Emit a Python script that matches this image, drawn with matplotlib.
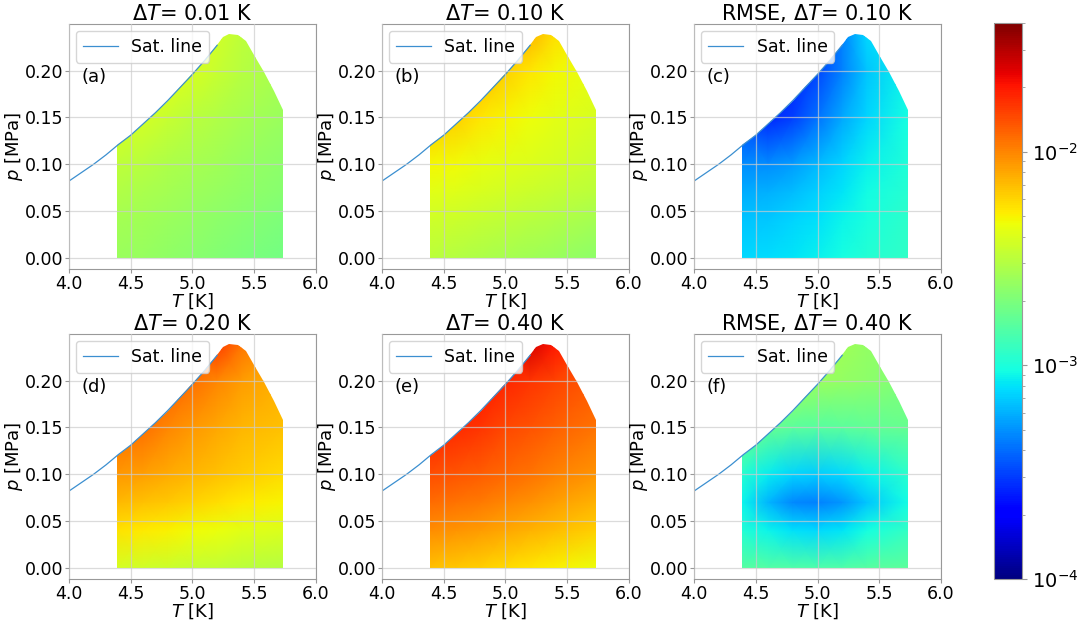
import numpy as np
import matplotlib
matplotlib.use('Agg')
import matplotlib.pyplot as plt
from matplotlib.colors import LogNorm
from matplotlib.patches import Polygon

# Saturation line of helium
sat_T = [4.0, 4.1, 4.2, 4.3, 4.4, 4.5, 4.6, 4.7, 4.8, 4.9, 5.0, 5.1, 5.2]
sat_p = [0.082, 0.091, 0.100, 0.110, 0.121, 0.131, 0.143, 0.155, 0.168, 0.182, 0.196, 0.211, 0.227]

# Upper edge of the data region
edge_T = [4.39, 4.5, 4.6, 4.7, 4.8, 4.9, 5.0, 5.1, 5.2, 5.25, 5.3, 5.37, 5.43, 5.5, 5.58, 5.66, 5.73]
edge_p = [0.120, 0.131, 0.143, 0.155, 0.168, 0.182, 0.196, 0.211, 0.227, 0.236, 0.239, 0.238,
          0.232, 0.217, 0.199, 0.178, 0.158]

# Grid nodes for the error fields
grid_T = [4.39, 4.6, 4.8, 5.0, 5.2, 5.4, 5.73]
grid_p = [0.0, 0.04, 0.07, 0.10, 0.15, 0.20, 0.24]

# log10 of the error, rows = grid_p, cols = grid_T
err_a = [[-2.60, -2.61, -2.63, -2.65, -2.67, -2.69, -2.72],
         [-2.57, -2.58, -2.60, -2.62, -2.64, -2.66, -2.69],
         [-2.53, -2.55, -2.57, -2.59, -2.61, -2.63, -2.66],
         [-2.49, -2.51, -2.54, -2.56, -2.58, -2.61, -2.64],
         [-2.40, -2.42, -2.46, -2.50, -2.53, -2.56, -2.60],
         [-2.36, -2.36, -2.37, -2.41, -2.46, -2.51, -2.56],
         [-2.36, -2.36, -2.36, -2.38, -2.43, -2.49, -2.55]]

err_b = [[-2.50, -2.52, -2.54, -2.56, -2.58, -2.60, -2.64],
         [-2.44, -2.45, -2.47, -2.49, -2.51, -2.53, -2.57],
         [-2.38, -2.39, -2.41, -2.43, -2.45, -2.47, -2.50],
         [-2.32, -2.33, -2.36, -2.38, -2.40, -2.42, -2.46],
         [-2.19, -2.21, -2.27, -2.31, -2.34, -2.37, -2.41],
         [-2.13, -2.13, -2.15, -2.21, -2.27, -2.32, -2.37],
         [-2.13, -2.13, -2.13, -2.15, -2.13, -2.25, -2.33]]

err_c = [[-3.12, -3.11, -3.09, -3.06, -3.02, -2.98, -2.94],
         [-3.17, -3.16, -3.13, -3.10, -3.05, -3.01, -2.95],
         [-3.23, -3.22, -3.19, -3.14, -3.09, -3.03, -2.97],
         [-3.31, -3.31, -3.27, -3.20, -3.13, -3.06, -2.99],
         [-3.48, -3.58, -3.52, -3.38, -3.24, -3.13, -3.02],
         [-3.50, -3.58, -3.58, -3.50, -3.34, -3.17, -3.05],
         [-3.50, -3.56, -3.56, -3.50, -3.34, -3.12, -3.05]]

err_d = [[-2.42, -2.44, -2.45, -2.47, -2.48, -2.50, -2.52],
         [-2.26, -2.28, -2.30, -2.33, -2.35, -2.38, -2.40],
         [-2.15, -2.17, -2.19, -2.22, -2.25, -2.28, -2.31],
         [-2.05, -2.07, -2.10, -2.13, -2.17, -2.20, -2.24],
         [-1.93, -1.94, -2.00, -2.05, -2.09, -2.13, -2.17],
         [-1.88, -1.88, -1.90, -1.94, -2.00, -2.06, -2.12],
         [-1.88, -1.88, -1.88, -1.90, -1.80, -1.95, -2.08]]

err_e = [[-2.17, -2.19, -2.21, -2.24, -2.27, -2.30, -2.35],
         [-2.02, -2.04, -2.06, -2.09, -2.12, -2.16, -2.21],
         [-1.93, -1.95, -1.97, -2.00, -2.03, -2.07, -2.12],
         [-1.85, -1.87, -1.89, -1.92, -1.95, -1.99, -2.04],
         [-1.73, -1.75, -1.78, -1.83, -1.86, -1.90, -1.95],
         [-1.68, -1.68, -1.70, -1.74, -1.78, -1.82, -1.88],
         [-1.68, -1.68, -1.68, -1.70, -1.60, -1.70, -1.85]]

err_f = [[-2.82, -2.83, -2.84, -2.85, -2.84, -2.82, -2.80],
         [-2.98, -3.05, -3.10, -3.12, -3.09, -3.02, -2.93],
         [-3.05, -3.21, -3.32, -3.34, -3.29, -3.17, -3.03],
         [-2.97, -3.07, -3.13, -3.15, -3.12, -3.06, -2.96],
         [-2.70, -2.77, -2.81, -2.82, -2.81, -2.79, -2.76],
         [-2.53, -2.55, -2.58, -2.60, -2.62, -2.64, -2.68],
         [-2.53, -2.53, -2.55, -2.56, -2.58, -2.62, -2.66]]

titles = [r'$\Delta T$= 0.01 K', r'$\Delta T$= 0.10 K', r'RMSE, $\Delta T$= 0.10 K',
          r'$\Delta T$= 0.20 K', r'$\Delta T$= 0.40 K', r'RMSE, $\Delta T$= 0.40 K']
tags = ['(a)', '(b)', '(c)', '(d)', '(e)', '(f)']
fields = [err_a, err_b, err_c, err_d, err_e, err_f]

fig = plt.figure(figsize=(10.79, 6.23), dpi=100)
lefts = [0.0639, 0.354, 0.6432]
bottoms = [0.5682, 0.0706]
w, h = 0.2289, 0.3935

norm = LogNorm(vmin=1e-4, vmax=4e-2)
TT, PP = np.meshgrid(grid_T, grid_p)
verts = [(edge_T[0], 0.0)] + list(zip(edge_T, edge_p)) + [(edge_T[-1], 0.0)]

for i, (fld, title, tag) in enumerate(zip(fields, titles, tags)):
    ax = fig.add_axes([lefts[i % 3], bottoms[i // 3], w, h])
    mesh = ax.pcolormesh(TT, PP, 10 ** np.array(fld), cmap='jet', norm=norm,
                         shading='gouraud', rasterized=True)
    clip = Polygon(verts, closed=True, transform=ax.transData)
    mesh.set_clip_path(clip)
    ax.plot(sat_T, sat_p, color='#3b8fd0', lw=0.9, label='Sat. line')

    ax.set_xlim(4.0, 6.0)
    ax.set_ylim(-0.0119, 0.2499)
    ax.set_xticks([4.0, 4.5, 5.0, 5.5, 6.0])
    ax.set_yticks([0.0, 0.05, 0.10, 0.15, 0.20])
    ax.set_yticklabels(['0.00', '0.05', '0.10', '0.15', '0.20'])
    ax.tick_params(labelsize=12.5, length=3, color='#999999', pad=1)
    ax.set_axisbelow(False)
    ax.grid(True, color='#cccccc', lw=0.9, alpha=0.7)
    for s in ax.spines.values():
        s.set_color('#999999')
    ax.set_title(title, fontsize=15, pad=3)
    ax.set_xlabel(r'$T$ [K]', fontsize=13, labelpad=-1)
    ax.set_ylabel(r'$p$ [MPa]', fontsize=13, labelpad=0)
    ax.legend(loc='upper left', fontsize=12.5, borderaxespad=0.4, handlelength=2.0)
    ax.text(0.05, 0.785, tag, transform=ax.transAxes, fontsize=13, va='center')

cax = fig.add_axes([0.9212, 0.0706, 0.026, 0.8925])
cb = fig.colorbar(mesh, cax=cax)
cb.outline.set_edgecolor('#999999')
cb.ax.tick_params(labelsize=14, color='#999999')
cb.ax.tick_params(which='minor', color='#999999')

plt.savefig('out.png', dpi=100)
